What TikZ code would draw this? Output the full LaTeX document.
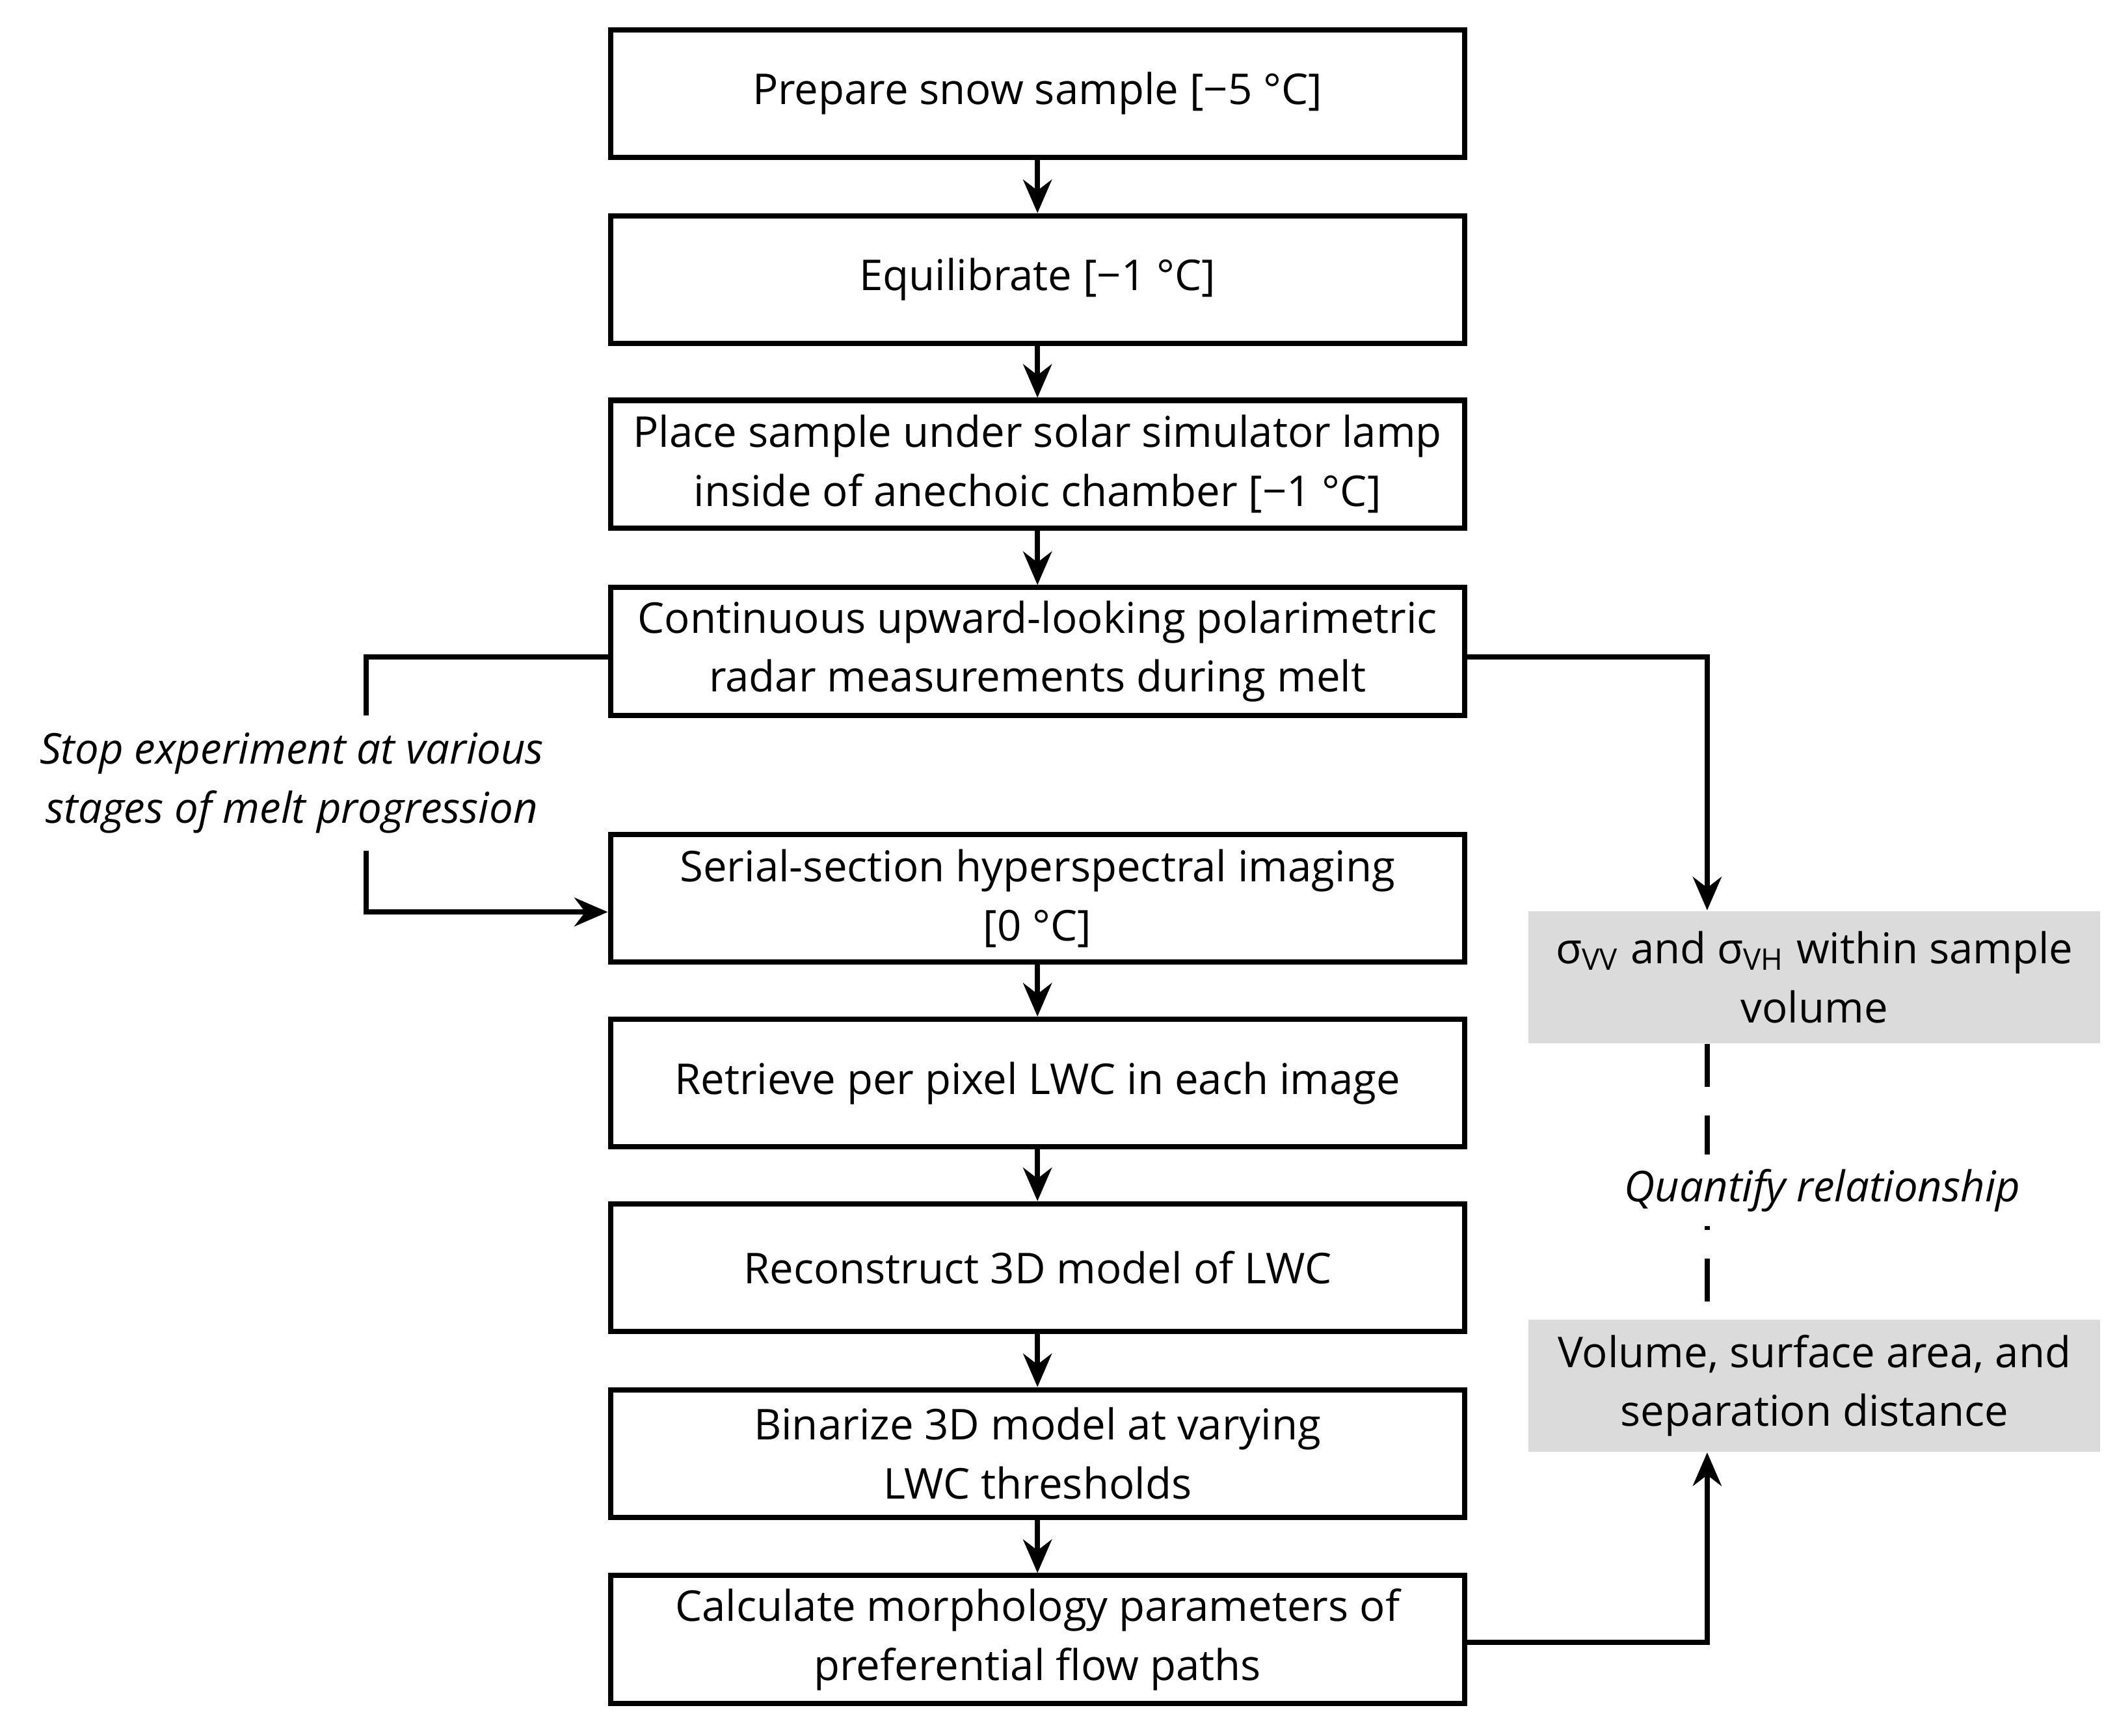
\documentclass[tikz,border=0pt]{standalone}
\usepackage{fontspec}
\setmainfont{Open Sans}
\usetikzlibrary{arrows.meta}
\begin{document}
\begin{tikzpicture}[x=0.01cm,y=-0.01cm,
  font=\fontsize{8.9}{12.4}\selectfont,
  box/.style={draw,line width=1.1pt,minimum width=6.29cm,minimum height=0.94cm,align=center,inner sep=1pt},
  gbox/.style={fill=black!14,minimum width=4.21cm,minimum height=0.97cm,align=center,inner sep=1pt},
  ln/.style={line width=1.1pt},
  arr/.style={ln,-{Stealth[length=7pt,width=6pt]}}]
\useasboundingbox (0,0) rectangle (1560,1279);
\node[box] (b1) at (764.5,69) {Prepare snow sample [−5 °C]};
\node[box] (b2) at (764.5,206) {Equilibrate [−1 °C]};
\node[box] (b3) at (764.5,342) {Place sample under solar simulator lamp\\inside of anechoic chamber [−1 °C]};
\node[box] (b4) at (764.5,480) {Continuous upward-looking polarimetric\\radar measurements during melt};
\node[box] (b5) at (764.5,662) {Serial-section hyperspectral imaging\\{[0 °C]}};
\node[box] (b6) at (764.5,798) {Retrieve per pixel LWC in each image};
\node[box] (b7) at (764.5,934) {Reconstruct 3D model of LWC};
\node[box] (b8) at (764.5,1071) {Binarize 3D model at varying\\LWC thresholds};
\node[box] (b9) at (764.5,1208) {Calculate morphology parameters of\\preferential flow paths};
\node[gbox] (g1) at (1337,720) {σ\textsubscript{VV} and σ\textsubscript{VH} within sample\\volume};
\node[gbox] (g2) at (1337,1021) {Volume, surface area, and\\separation distance};
\node[align=center,font=\fontsize{8.9}{12.4}\selectfont\itshape] (stop) at (215,577) {Stop experiment at various\\stages of melt progression};
\foreach \a/\b in {b1/b2,b2/b3,b3/b4,b5/b6,b6/b7,b7/b8,b8/b9}
  \draw[arr] (\a) -- (\b);
\coordinate (l1) at (270,484);
\coordinate (l2) at (270,527);
\coordinate (l3) at (270,627);
\coordinate (l4) at (270,672);
\draw[ln] (b4.west |- l1) -- (l1) -- (l2);
\draw[arr] (l3) -- (l4) -- (b5.west |- l4);
\coordinate (r1) at (1258,484);
\draw[arr] (b4.east |- r1) -- (r1) -- (r1 |- g1.north);
\coordinate (r2) at (1258,1210);
\draw[arr] (b9.east |- r2) -- (r2) -- (r2 |- g2.south);
\draw[ln,dash pattern=on 9pt off 6pt] (r1 |- g1.south) -- (r1 |- g2.north);
\node[fill=white,font=\fontsize{8.9}{12.4}\selectfont\itshape,inner sep=3pt] (q) at (1343,877) {Quantify relationship};
\end{tikzpicture}
\end{document}
